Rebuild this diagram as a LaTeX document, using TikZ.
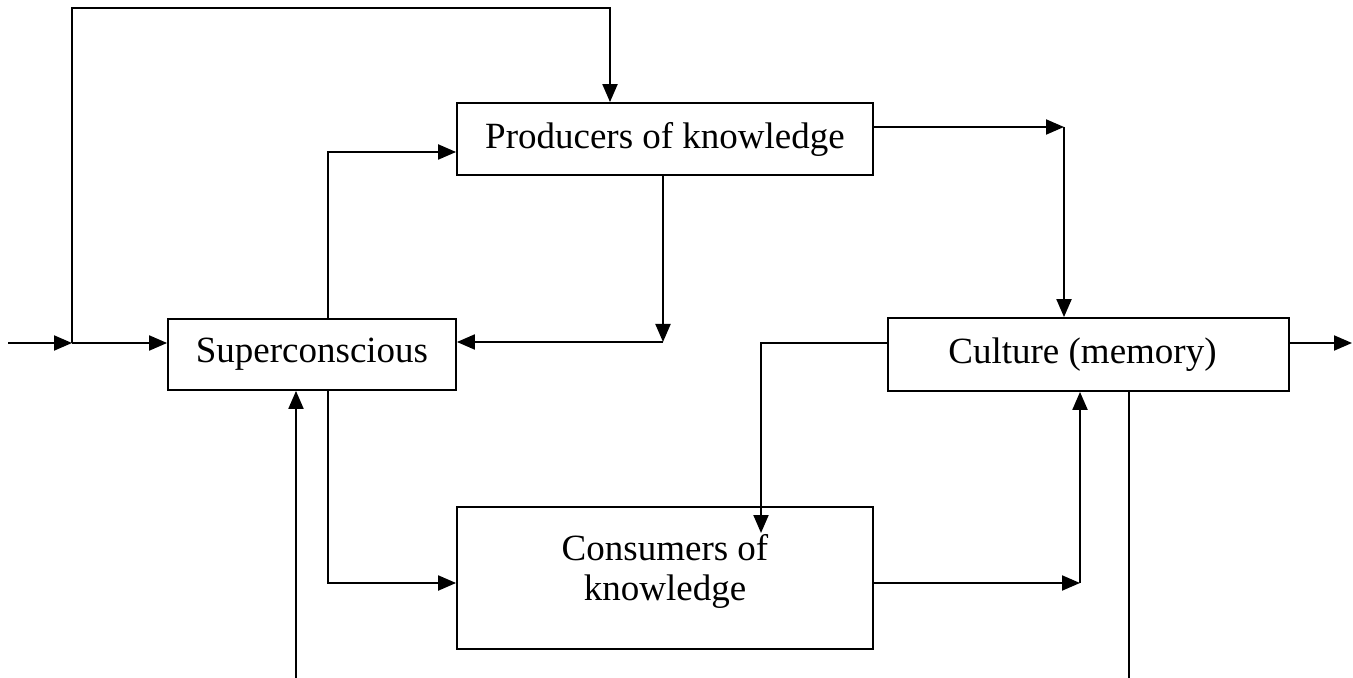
\documentclass[tikz,border=0pt]{standalone}
\usepackage{fontspec}
\setmainfont{Liberation Serif}
\usetikzlibrary{arrows.meta}
\begin{document}
\begin{tikzpicture}[x=0.5pt,y=-0.5pt,
  box/.style={draw, line width=0.9pt, rectangle, inner sep=0pt, font=\fontsize{18.5}{20}\selectfont},
  lbl/.style={font=\fontsize{18.5}{20}\selectfont, align=center, inner sep=0pt},
  conn/.style={line width=1pt},
  arr/.style={conn, -{Triangle[length=9pt,width=7.5pt]}}]
\useasboundingbox (0,0) rectangle (1353,678);
% boxes
\node[box, minimum width=208pt, minimum height=36pt] (prod) at (665,139) {Producers of knowledge};
\node[box, minimum width=144pt, minimum height=35.5pt] (super) at (312,354.5) {Superconscious};
\node[box, minimum width=200.5pt, minimum height=36.5pt] (cult) at (1088.5,354.5) {\hspace{-6pt}Culture (memory)};
\node[box, minimum width=208pt, minimum height=71pt] (cons) at (665,578) {};
\node[lbl] (constext) at (665,571) {Consumers of\\knowledge};
% coordinates
\coordinate (in) at (8,343);
\coordinate (j1) at (72,343);
\coordinate (t1) at (72,8);
\coordinate (t2) at (610,8);
\coordinate (s1) at (328,152);
\coordinate (p1) at (663,342);
\coordinate (p2) at (1064,127);
\coordinate (out) at (1352,343);
\coordinate (c1) at (761,343);
\coordinate (c2) at (761,533);
\coordinate (s2) at (328,583);
\coordinate (k1) at (1080,583);
\coordinate (b1) at (1129,678);
\coordinate (b2) at (296,678);
% connectors
\draw[arr] (in) -- (j1);
\draw[arr] (j1) -- (j1 -| super.west);
\draw[arr] (j1) -- (t1) -- (t2) -- (t2 |- prod.north);
\draw[arr] (s1 |- super.north) -- (s1) -- (s1 -| prod.west);
\draw[arr] (p1 |- prod.south) -- (p1);
\draw[arr] (p1) -- (p1 -| super.east);
\draw[arr] (p2 -| prod.east) -- (p2);
\draw[arr] (p2) -- (p2 |- cult.north);
\draw[arr] (out -| cult.east) -- (out);
\draw[arr] (c1 -| cult.west) -- (c1) -- (c2);
\draw[arr] (s2 |- super.south) -- (s2) -- (s2 -| cons.west);
\draw[arr] (k1 -| cons.east) -- (k1);
\draw[arr] (k1) -- (k1 |- cult.south);
\draw[conn] (b1 |- cult.south) -- (b1);
\draw[arr] (b2) -- (b2 |- super.south);
\end{tikzpicture}
\end{document}
